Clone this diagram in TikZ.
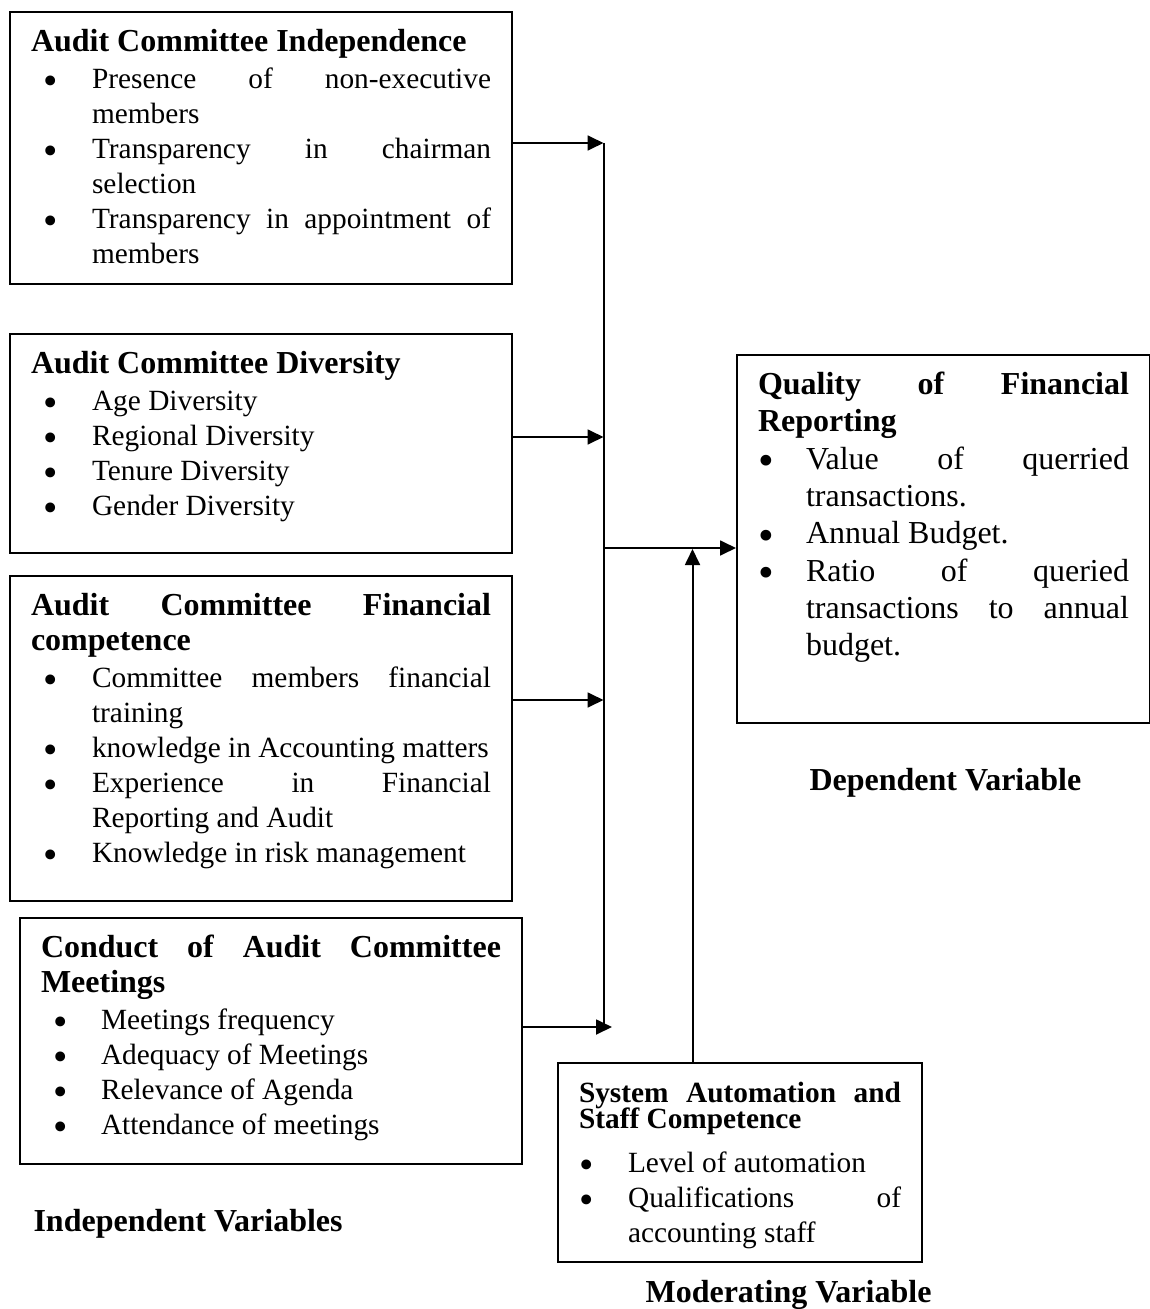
\documentclass[tikz,border=0pt]{standalone}
\usepackage{fontspec}
\usepackage{graphicx}
\setmainfont{Liberation Serif}
\usetikzlibrary{arrows.meta}

\newdimen\px \px=0.375pt
\newlength{\bulind}
\newlength{\itemind}
\hbadness=10000
\newcommand{\firstline}{\rule{0pt}{24.5\px}}
\newcommand{\bitem}[1]{\par\hangindent=\itemind\hangafter=1\noindent\makebox[\itemind][l]{\hspace{\bulind}\raisebox{-2.4pt}{\scalebox{1.4}{\textbullet}}}#1}
\newcommand{\boxtitle}[1]{{\fontsize{12}{13.125}\selectfont\firstline\textbf{#1}\par}}
\newcommand{\boxtext}[3]{\parbox[t][#1\px][t]{#2\px}{\fontsize{11}{13.125}\selectfont#3}}

\tikzset{
  varbox/.style={draw, line width=0.75pt, inner xsep=7.875pt, inner ysep=5.625pt, anchor=north west},
  link/.style={line width=0.75pt, -{Triangle[length=6pt,width=5.6pt]}},
  varlabel/.style={font=\fontsize{12}{14}\selectfont\bfseries, inner sep=0pt, anchor=base west}
}

\begin{document}
\begin{tikzpicture}[x=0.375pt, y=-0.375pt]
\useasboundingbox (0,0) rectangle (1149,1309);

\node[varbox] (indep) at (9,11) {\boxtext{242}{460}{%
\setlength{\bulind}{4.8pt}\setlength{\itemind}{22.9pt}%
\boxtitle{Audit Committee Independence}\vspace{0.6pt}
\bitem{Presence of non-executive\linebreak members}
\bitem{Transparency in chairman\linebreak selection}
\bitem{Transparency in appointment of\linebreak members}}};

\node[varbox] (divers) at (9,333) {\boxtext{189}{460}{%
\setlength{\bulind}{4.8pt}\setlength{\itemind}{22.9pt}%
\boxtitle{Audit Committee Diversity}\vspace{0.6pt}
\bitem{Age Diversity}
\bitem{Regional Diversity}
\bitem{Tenure Diversity}
\bitem{Gender Diversity}}};

\node[varbox] (fincomp) at (9,575) {\boxtext{295}{460}{%
\setlength{\bulind}{4.8pt}\setlength{\itemind}{22.9pt}%
\boxtitle{Audit Committee Financial\linebreak competence}\vspace{0.6pt}
\bitem{Committee members financial\linebreak training}
\bitem{knowledge in Accounting matters}
\bitem{Experience in Financial\linebreak Reporting and Audit}
\bitem{Knowledge in risk management}}};

\node[varbox] (meet) at (19,917) {\boxtext{216}{460}{%
\setlength{\bulind}{4.8pt}\setlength{\itemind}{22.5pt}%
\boxtitle{Conduct of Audit Committee\linebreak Meetings}\vspace{0.6pt}
\bitem{Meetings frequency}
\bitem{Adequacy of Meetings}
\bitem{Relevance of Agenda}
\bitem{Attendance of meetings}}};

\node[varbox] (qual) at (736,354) {\boxtext{338}{371}{%
\fontsize{12}{14}\selectfont
\setlength{\bulind}{0pt}\setlength{\itemind}{18pt}%
\firstline\textbf{Quality of Financial\linebreak Reporting}
\bitem{Value of querried\linebreak transactions.}
\bitem{Annual Budget.}
\bitem{Ratio of queried\linebreak transactions to annual\linebreak budget.}}};

\node[varbox] (moder) at (557,1062) {\boxtext{169}{322}{%
\setlength{\bulind}{0pt}\setlength{\itemind}{18.4pt}%
{\fontsize{11}{9.75}\selectfont\lineskiplimit=-5pt\firstline\textbf{System Automation and\linebreak Staff Competence}\par}\vspace{3.3pt}
\bitem{Level of automation}
\bitem{Qualifications of\linebreak accounting staff}}};

\node[varlabel] (indlab) at (33,1231.7) {Independent Variables};
\node[varlabel] (deplab) at (809,790) {Dependent Variable};
\node[varlabel] (modlab) at (645,1302) {Moderating Variable};

\coordinate (bustop) at (603.5,143);
\coordinate (in2) at (603.5,437);
\coordinate (in3) at (603.5,700);
\coordinate (busbot) at (603.5,1027);
\coordinate (in4) at (612,1027);
\coordinate (junc) at (603.5,548);
\coordinate (modtip) at (692.5,549);

\draw[line width=0.75pt] (bustop) -- (busbot);
\draw[link] (indep.east |- bustop) -- (bustop);
\draw[link] (divers.east |- in2) -- (in2);
\draw[link] (fincomp.east |- in3) -- (in3);
\draw[link] (meet.east |- in4) -- (in4);
\draw[link] (junc) -- (junc -| qual.west);
\draw[link] (moder.north -| modtip) -- (modtip);
\end{tikzpicture}
\end{document}
